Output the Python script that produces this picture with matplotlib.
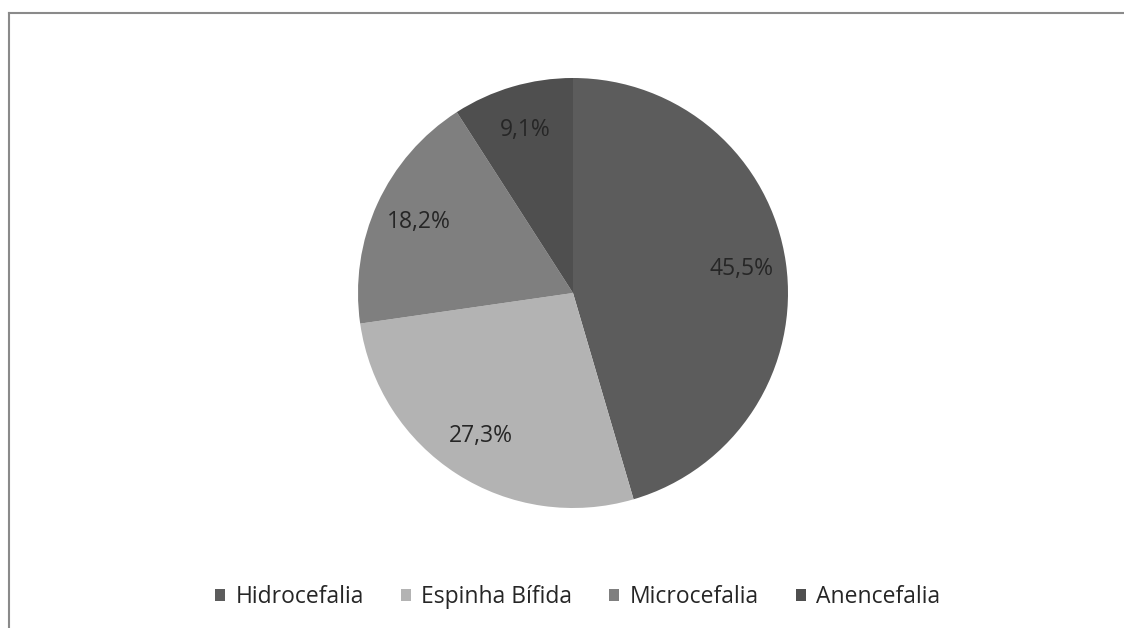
import matplotlib
matplotlib.use("Agg")
import matplotlib.pyplot as plt
from matplotlib.lines import Line2D
from matplotlib.patches import Patch
import numpy as np

categories = ["Hidrocefalia", "Espinha Bífida", "Microcefalia", "Anencefalia"]
values = [45.5, 27.3, 18.2, 9.1]
pct_labels = ["45,5%", "27,3%", "18,2%", "9,1%"]
colors = ["#5c5c5c", "#b3b3b3", "#7f7f7f", "#4f4f4f"]

plt.rcParams['font.family'] = ['Open Sans', 'DejaVu Sans']

W, H = 1124, 628
fig = plt.figure(figsize=(W/100, H/100), dpi=100)
fig.patch.set_facecolor("white")

# chart border (top and left visible)
fig.add_artist(Line2D([8.5/W, 8.5/W], [0, 1 - 12.5/H], transform=fig.transFigure,
                      color="#8a8a8a", lw=1.5))
fig.add_artist(Line2D([8.5/W, 1], [1 - 12.5/H, 1 - 12.5/H], transform=fig.transFigure,
                      color="#8a8a8a", lw=1.5))

cx, cy, r = 573, 293, 215
ax = fig.add_axes([(cx - r)/W, 1 - (cy + r)/H, 2*r/W, 2*r/H])
wedges, texts = ax.pie(values, colors=colors, startangle=90, counterclock=False,
                       radius=1, wedgeprops=dict(edgecolor="none"))
ax.set_xlim(-1, 1)
ax.set_ylim(-1, 1)
ax.set_aspect("equal")
ax.axis("off")

total = sum(values)
angle = 90.0
for v, lab in zip(values, pct_labels):
    span = 360.0 * v / total
    mid = np.deg2rad(angle - span/2)
    angle -= span
    ax.text(0.79*np.cos(mid), 0.79*np.sin(mid), lab, ha="center", va="center",
            fontsize=16.5, color="#262626")

handles = [Patch(facecolor=c, edgecolor="none", label=l) for c, l in zip(colors, categories)]
fig.legend(handles=handles, loc="center", bbox_to_anchor=(0.514, 1 - 597/H), ncol=4,
           frameon=False, fontsize=16.5, handlelength=0.45, handleheight=0.45,
           handletextpad=0.45, columnspacing=1.6, labelcolor="#262626",
           borderpad=0, borderaxespad=0)

fig.savefig("out.png", dpi=100, facecolor="white")
